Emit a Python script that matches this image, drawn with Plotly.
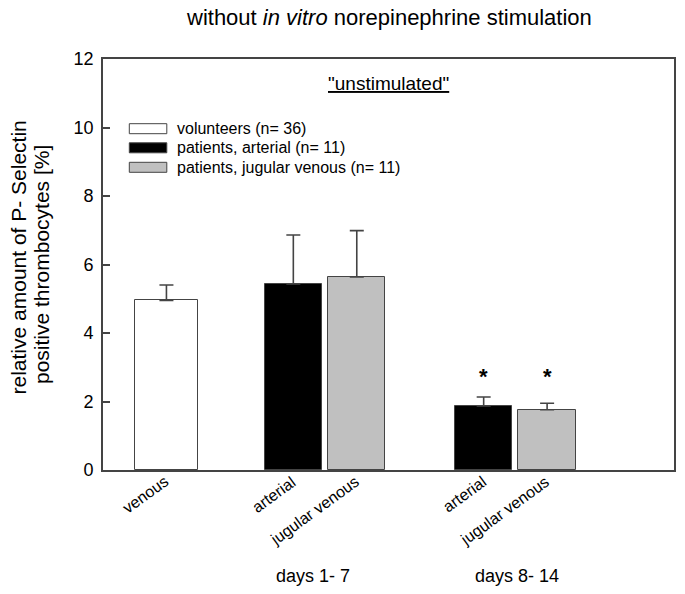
import plotly.graph_objects as go

# ---- data ----
tick_labels = ["venous", "arterial", "jugular venous", "arterial", "jugular venous"]
x_pos = [1, 3, 4, 6, 7]

vol_x = [1]
vol_mean = [4.95]
vol_err = [0.45]

art_x = [3, 6]
art_mean = [5.43, 1.87]
art_err = [1.43, 0.26]

jug_x = [4, 7]
jug_mean = [5.64, 1.76]
jug_err = [1.35, 0.19]

legend_names = ["volunteers (n= 36)", "patients, arterial (n= 11)", "patients, jugular venous (n= 11)"]
colors = ["#ffffff", "#000000", "#c0c0c0"]
group_labels = ["days 1- 7", "days 8- 14"]
group_x = [3.31, 6.52]
signif_x = [6, 7]
signif_y = [2.72, 2.72]

FONT = "Liberation Sans, Arial, Helvetica, sans-serif"
LINE = "#444444"

# plot-area geometry (px)
L, R, T, B = 103, 674, 59, 470
PW, PH = R - L, B - T

fig = go.Figure()

def add_bars(xs, ys, errs, color, name, width):
    fig.add_trace(go.Bar(
        x=xs, y=ys, width=width, name=name,
        marker=dict(color=color, line=dict(color=LINE, width=1)),
        error_y=dict(type="data", symmetric=False, array=errs, arrayminus=[0] * len(errs),
                     color=LINE, thickness=1.6, width=7),
        showlegend=False,
    ))

add_bars(vol_x, vol_mean, vol_err, colors[0], legend_names[0], 1.0)
add_bars(art_x, art_mean, art_err, colors[1], legend_names[1], 0.905)
add_bars(jug_x, jug_mean, jug_err, colors[2], legend_names[2], 0.905)

annotations = []
shapes = []

# title
annotations.append(dict(text="without <i>in vitro</i> norepinephrine stimulation",
                        xref="paper", yref="paper", x=0.5, y=1.0, yshift=T - 17,
                        xanchor="center", yanchor="middle", showarrow=False,
                        font=dict(size=22, color="black", family=FONT)))
# subtitle inside plot
annotations.append(dict(text="<u>\"unstimulated\"</u>", xref="paper", yref="paper",
                        x=(388 - L) / PW, y=(B - 83) / PH, xanchor="center", yanchor="middle",
                        showarrow=False, font=dict(size=19, color="black", family=FONT)))
# y title (two lines)
for txt, px, py in [("relative amount of P- Selectin", 18, 257.5),
                    ("positive thrombocytes [%]", 41, 265)]:
    annotations.append(dict(text=txt, xref="paper", yref="paper", x=(px - L) / PW,
                            y=(B - py) / PH, xanchor="center", yanchor="middle",
                            textangle=-90, showarrow=False,
                            font=dict(size=21, color="black", family=FONT)))

# legend
row_y = [128.7, 147.8, 167.3]
for name, col, yp in zip(legend_names, colors, row_y):
    yc = (B - yp) / PH
    h = 5 / PH
    shapes.append(dict(type="rect", xref="paper", yref="paper",
                       x0=(129.3 - L) / PW, x1=(166.8 - L) / PW, y0=yc - h, y1=yc + h,
                       fillcolor=col, line=dict(color=LINE, width=1)))
    annotations.append(dict(text=name, xref="paper", yref="paper", x=(175 - L) / PW, y=yc,
                            xanchor="left", yanchor="middle", showarrow=False,
                            font=dict(size=16, color="black", family=FONT)))

# category labels (rotated)
for xp, lab in zip(x_pos, tick_labels):
    annotations.append(dict(text=lab, xref="x", yref="paper", x=xp, y=0, xshift=8, yshift=0,
                            xanchor="right", yanchor="top", textangle=-36, showarrow=False,
                            font=dict(size=16, color="black", family=FONT)))

# group labels
for gx, gl in zip(group_x, group_labels):
    annotations.append(dict(text=gl, xref="x", yref="paper", x=gx, y=0, yshift=-106,
                            xanchor="center", yanchor="middle", showarrow=False,
                            font=dict(size=18, color="black", family=FONT)))

# significance stars
for sx, sy in zip(signif_x, signif_y):
    annotations.append(dict(text="<b>*</b>", xref="x", yref="y", x=sx, y=sy,
                            xanchor="center", yanchor="middle", showarrow=False,
                            font=dict(size=22, color="black", family=FONT)))

fig.update_layout(
    width=685, height=594, autosize=False,
    margin=dict(l=L, r=685 - R, t=T, b=594 - B, autoexpand=False),
    paper_bgcolor="white", plot_bgcolor="white",
    font=dict(family=FONT, color="black"),
    bargap=0,
    annotations=annotations, shapes=shapes,
    showlegend=False,
)
fig.update_xaxes(range=[0, 9], showticklabels=False, ticks="", showline=True, mirror=True,
                 linecolor=LINE, linewidth=1.6, showgrid=False, zeroline=False, automargin=False)
fig.update_yaxes(range=[0, 12], tickvals=[0, 2, 4, 6, 8, 10, 12], ticks="inside", ticklen=7,
                 tickcolor=LINE, tickwidth=1.5, showline=True, mirror=True, linecolor=LINE,
                 linewidth=1.6, showgrid=False, zeroline=False, ticklabelstandoff=4, automargin=False,
                 tickfont=dict(size=18, color="black", family=FONT))

fig.write_html("out.html", config={"responsive": False, "displayModeBar": False},
               post_script="document.body.style.margin='0';document.body.style.overflow='hidden';")
